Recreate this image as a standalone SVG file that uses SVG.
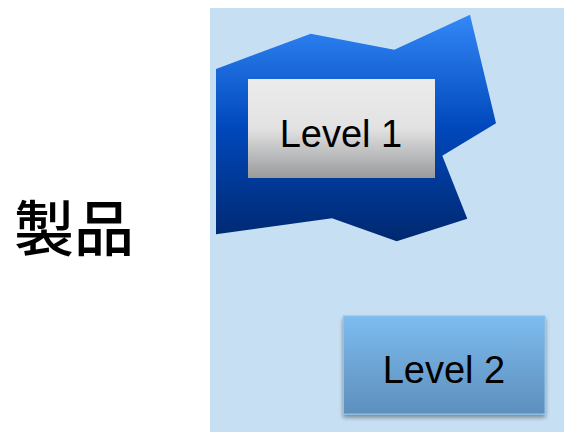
<svg xmlns="http://www.w3.org/2000/svg" width="564" height="432" viewBox="0 0 564 432">
<defs>
<linearGradient id="gBlob" x1="0" y1="0" x2="0" y2="1">
<stop offset="0" stop-color="#3388f7"/>
<stop offset="0.5" stop-color="#0048bb"/>
<stop offset="1" stop-color="#00286f"/>
</linearGradient>
<linearGradient id="gL1" x1="0" y1="0" x2="0" y2="1">
<stop offset="0" stop-color="#ececec"/>
<stop offset="0.5" stop-color="#e2e2e2"/>
<stop offset="1" stop-color="#999a9c"/>
</linearGradient>
<linearGradient id="gL2" x1="0" y1="0" x2="0" y2="1">
<stop offset="0" stop-color="#7dbcef"/>
<stop offset="1" stop-color="#5d8fbd"/>
</linearGradient>
<filter id="shadow" x="-10%" y="-10%" width="120%" height="130%">
<feGaussianBlur in="SourceAlpha" stdDeviation="2"/>
<feOffset dx="0" dy="3" result="b"/>
<feComponentTransfer><feFuncA type="linear" slope="0.4"/></feComponentTransfer>
<feMerge><feMergeNode/><feMergeNode in="SourceGraphic"/></feMerge>
</filter>
</defs>
<style>
.lbl{font-family:"Liberation Sans","Noto Sans CJK JP",sans-serif;font-size:38px;fill:#000;text-anchor:middle}
.title{font-family:"Noto Sans CJK JP",sans-serif;font-size:60px;font-weight:500;fill:#000;text-anchor:middle}
</style>
<rect x="210" y="8" width="354" height="424" fill="#c6dff3"/>
<g id="title"><text class="title" x="74" y="251">製品</text></g>
<g id="blob">
<polygon points="216,69 310.7,33.7 394.3,49.7 470,14.7 496,123.3 442.3,155.7 467.3,218.7 396.7,241.3 332,218.3 216,234.3" fill="url(#gBlob)"/>
</g>
<g id="level1">
<rect x="248" y="79" width="187" height="99" fill="url(#gL1)"/>
<text class="lbl" x="341" y="147">Level 1</text>
</g>
<g id="level2">
<rect x="343.5" y="316" width="201.5" height="98" fill="url(#gL2)" stroke="#8cc4ef" stroke-width="1" filter="url(#shadow)"/>
<text class="lbl" x="444" y="383">Level 2</text>
</g>
<g id="connectors"/>
</svg>
